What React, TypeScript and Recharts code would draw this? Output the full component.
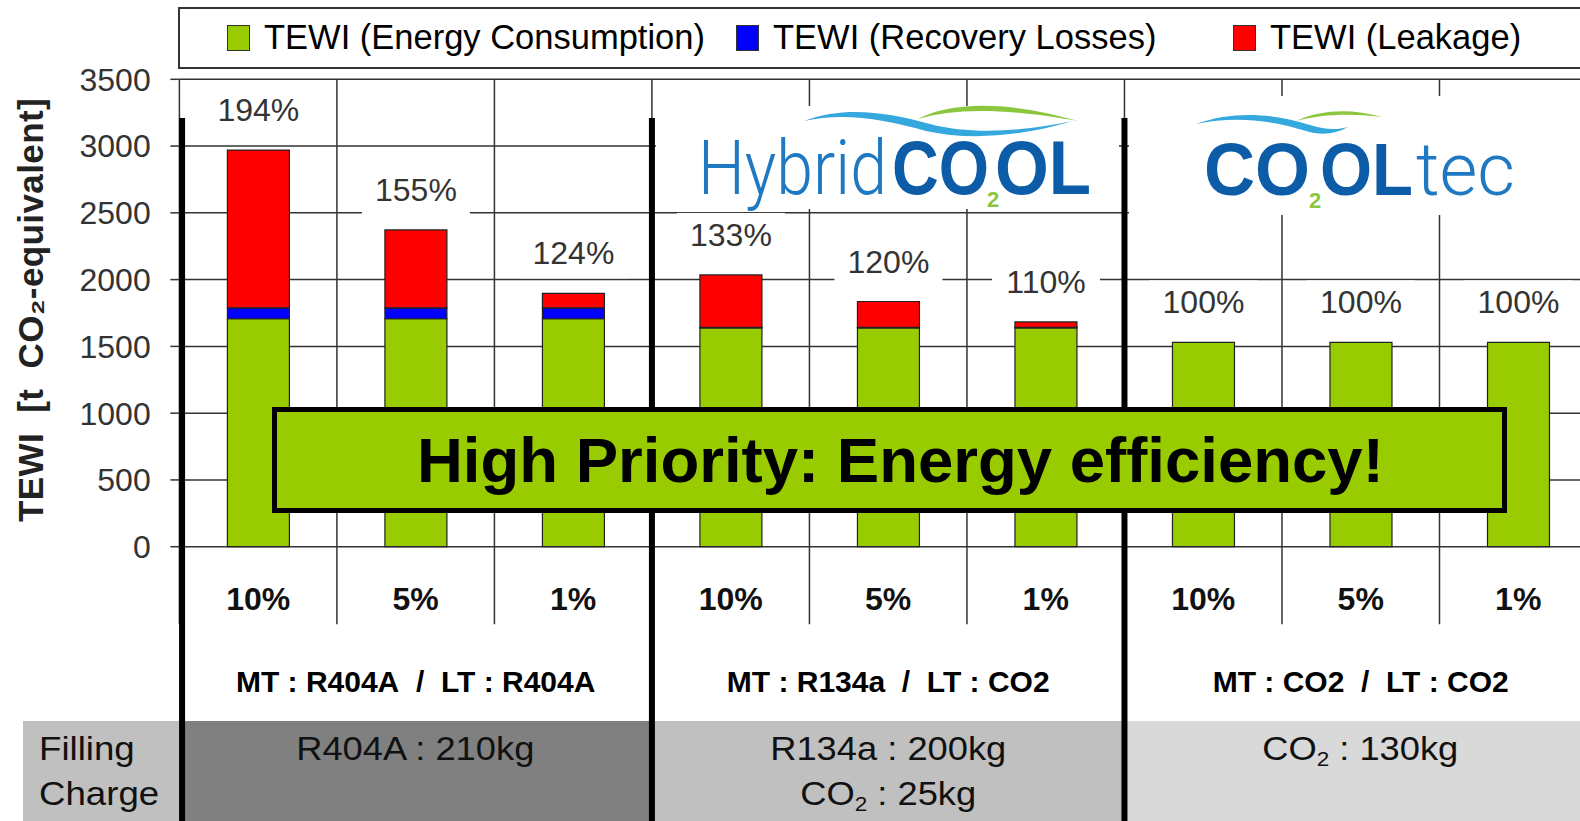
import React from 'react';
import { ComposedChart, Bar, XAxis, YAxis, CartesianGrid, ReferenceLine, LabelList } from 'recharts';

// leak rate per bar, three refrigerant set-ups of three bars each
const leakRates = ['10%', '5%', '1%', '10%', '5%', '1%', '10%', '5%', '1%'];
const systems = [
  'MT : R404A\u00a0 /\u00a0 LT : R404A',
  'MT : R134a\u00a0 /\u00a0 LT : CO2',
  'MT : CO2\u00a0 /\u00a0 LT : CO2',
];

// TEWI [t CO2-equivalent]
const energy = [1707, 1707, 1707, 1638, 1638, 1638, 1530, 1530, 1530];
const recovery = [82, 82, 82, 5, 5, 5, 0, 0, 0];
const leakage = [1181, 583, 108, 392, 193, 40, 0, 0, 0];
const relative = ['194%', '155%', '124%', '133%', '120%', '110%', '100%', '100%', '100%'];

const yTicks = [0, 500, 1000, 1500, 2000, 2500, 3000, 3500];
const slotEdges = [0, 1, 2, 3, 4, 5, 6, 7, 8, 9];
const groupEdges = [0.017, 3, 6];

const series = [
  { key: 'energy', name: 'TEWI (Energy Consumption)', color: '#99CC00', slot: 509 },
  { key: 'recovery', name: 'TEWI (Recovery Losses)', color: '#0000FF', slot: 497 },
  { key: 'leakage', name: 'TEWI (Leakage)', color: '#FF0000', slot: 400 },
];

const charges = [
  ['R404A : 210kg'],
  ['R134a : 200kg', 'CO2 : 25kg'],
  ['CO2 : 130kg'],
];
const chargeFills = ['#808080', '#c0c0c0', '#d9d9d9'];

const data = leakRates.map((rate, i) => ({
  rate,
  system: systems[Math.floor(i / 3)],
  slot: i + 0.5,
  energy: energy[i],
  recovery: recovery[i],
  leakage: leakage[i],
  pct: relative[i],
}));

const FONT = "'Liberation Sans', Arial, Helvetica, sans-serif";
const PLOT_LEFT = 179.4;
const BAND = 157.5;

// label sits above the whole stack; the stack top is found from the green rect's own scale
const PctLabel = (props: any) => {
  const { x, y, width, height, value, index } = props;
  const d = data[index];
  if (!d) return null;
  const perUnit = Number(height) / d.energy;
  const top = Number(y) - (d.recovery + d.leakage) * perUnit;
  const cx = Number(x) + Number(width) / 2;
  const base = top - 29;
  return (
    <g>
      <rect x={cx - 54} y={base - 33} width={108} height={47} fill="#fff" />
      <text x={cx} y={base} textAnchor="middle" fontSize={32} fill="#333">{value}</text>
    </g>
  );
};

// "CO2" written with a lowered small 2
const withSub = (s: string) => {
  const parts = s.split('CO2');
  return parts.map((p, i) => (
    <React.Fragment key={i}>
      {i > 0 && (
        <>CO<span style={{ fontSize: '0.62em', position: 'relative', top: '0.3em' }}>2</span></>
      )}
      {p}
    </React.Fragment>
  ));
};

const LIGHT = "Roboto, 'Liberation Sans', sans-serif";
const DARK_BLUE = '#0c5ca8';
const MID_BLUE = '#1e78c2';
const LOGO_GREEN = '#8cc63f';

const Logos = () => (
  <svg width={1580} height={821} style={{ position: 'absolute', left: 0, top: 0, pointerEvents: 'none' }}>
    <text transform="translate(43,310) rotate(-90)" textAnchor="middle" fontSize={35} fontWeight="bold"
      fill="#222" style={{ whiteSpace: 'pre', letterSpacing: 0.4 }}>TEWI  [t  CO₂-equivalent]</text>

    {/* HybridCOOL */}
    <rect x={656} y={106} width={463} height={103} fill="#fff" />
    <path d="M804 121 C845 106 885 112 930 124 C975 136 1030 130 1072 121 C1030 134 975 142 926 131 C885 120 845 112 804 121 Z"
      fill="#35a8dd" />
    <path d="M918 119 C950 102 1005 100 1078 121 C1005 108 955 108 918 119 Z" fill={LOGO_GREEN} />
    <text y={194} fontSize={76}>
      <tspan x={698} fontWeight={300} fill={MID_BLUE} fontFamily={LIGHT} textLength={189} lengthAdjust="spacingAndGlyphs">Hybrid</tspan>
      <tspan x={892} fontWeight={900} fill={DARK_BLUE} textLength={97} lengthAdjust="spacingAndGlyphs">CO</tspan>
      <tspan x={987} dy={13} fontSize={22} fontWeight="bold" fill={LOGO_GREEN}>2</tspan>
      <tspan x={995} dy={-13} fontWeight={900} fill={DARK_BLUE} textLength={96} lengthAdjust="spacingAndGlyphs">OL</tspan>
    </text>

    {/* COOLtec */}
    <rect x={1129} y={96} width={460} height={119} fill="#fff" />
    <path d="M1196 124 C1235 110 1275 114 1310 125 C1325 130 1338 130 1348 127 C1335 134 1322 136 1306 131 C1270 120 1235 116 1196 124 Z"
      fill="#35a8dd" />
    <path d="M1296 121 C1320 110 1350 108 1382 117 C1350 113 1322 114 1296 121 Z" fill={LOGO_GREEN} />
    <text y={195} fontSize={74}>
      <tspan x={1204} fontWeight={900} fill={DARK_BLUE} textLength={106} lengthAdjust="spacingAndGlyphs">CO</tspan>
      <tspan x={1309} dy={13} fontSize={22} fontWeight="bold" fill={LOGO_GREEN}>2</tspan>
      <tspan x={1320} dy={-13} fontWeight={900} fill={DARK_BLUE} textLength={93} lengthAdjust="spacingAndGlyphs">OL</tspan>
      <tspan x={1416} fontWeight={300} fill={MID_BLUE} fontFamily={LIGHT} textLength={99} lengthAdjust="spacingAndGlyphs">tec</tspan>
    </text>
  </svg>
);

export default function App() {
  return (
    <div style={{ position: 'relative', width: 1580, height: 821, overflow: 'hidden', fontFamily: FONT, background: '#fff' }}>
      <style>{'body{margin:0;overflow:hidden}'}</style>

      {/* filling charge row */}
      <div style={{ position: 'absolute', left: 23, top: 721, width: PLOT_LEFT - 23, height: 100, background: '#c0c0c0' }}>
        <div style={{ position: 'absolute', left: 16, top: 5, fontSize: 33, lineHeight: '45px', color: '#111',
          transform: 'scaleX(1.11)', transformOrigin: 'left' }}>
          Filling<br />Charge
        </div>
      </div>
      {charges.map((lines, g) => (
        <div key={g} style={{ position: 'absolute', left: PLOT_LEFT + g * 3 * BAND, top: 721,
          width: g === 2 ? 1600 - (PLOT_LEFT + 6 * BAND) : 3 * BAND, height: 100, background: chargeFills[g] }}>
          <div style={{ position: 'absolute', top: 5, left: 0, textAlign: 'center', fontSize: 33, lineHeight: '45px',
            color: '#111', transform: 'scaleX(1.1)', width: 3 * BAND }}>
            {lines.map((l, i) => <div key={i}>{withSub(l)}</div>)}
          </div>
        </div>
      ))}

      <div style={{ position: 'absolute', left: 0, top: 0 }}>
        <ComposedChart width={1600} height={821} data={data} margin={{ top: 79.3, right: 3, bottom: 114.3, left: 0 }}>
          <CartesianGrid vertical={false} stroke="#333" strokeWidth={1.5} />
          <XAxis dataKey="rate" interval={0} height={60} tickSize={0} tickMargin={41} axisLine={false} tickLine={false}
            tick={{ fontSize: 32, fontWeight: 'bold', fill: '#111' }} />
          <XAxis xAxisId="sys" dataKey="system" allowDuplicatedCategory={false} interval={0} height={100} tickSize={0}
            tickMargin={34} axisLine={false} tickLine={false} tick={{ fontSize: 30, fontWeight: 'bold', fill: '#000' }} />
          <XAxis xAxisId="num" type="number" dataKey="slot" domain={[0, 9]} allowDataOverflow hide />
          <YAxis domain={[0, 3500]} ticks={yTicks} interval={0} width={PLOT_LEFT} tickSize={9} tickMargin={19.7}
            axisLine={false} tickLine={{ stroke: '#333', strokeWidth: 1.5 }} tick={{ fontSize: 32, fill: '#333' }} />
          {slotEdges.map((e) => (
            <ReferenceLine key={'s' + e} xAxisId="num" ifOverflow="visible" stroke="#333" strokeWidth={1.5}
              segment={[{ x: e, y: 3500 }, { x: e, y: -580 }]} />
          ))}
          <Bar dataKey="energy" name={series[0].name} stackId="t" fill={series[0].color} stroke="#222" strokeWidth={1.2}
            barSize={62} isAnimationActive={false}>
            <LabelList dataKey="pct" content={PctLabel} />
          </Bar>
          <Bar dataKey="recovery" name={series[1].name} stackId="t" fill={series[1].color} stroke="#222" strokeWidth={1.2}
            barSize={62} isAnimationActive={false} />
          <Bar dataKey="leakage" name={series[2].name} stackId="t" fill={series[2].color} stroke="#222" strokeWidth={1.2}
            barSize={62} isAnimationActive={false} />
          {groupEdges.map((e) => (
            <ReferenceLine key={'g' + e} xAxisId="num" ifOverflow="visible" stroke="#000" strokeWidth={6}
              segment={[{ x: e, y: 3210 }, { x: e, y: -2100 }]} />
          ))}
        </ComposedChart>
      </div>

      {/* legend */}
      <div style={{ position: 'absolute', left: 178, top: 6.7, width: 1440, height: 62, border: '2px solid #333',
        boxSizing: 'border-box', display: 'flex', alignItems: 'center', paddingLeft: 47, background: '#fff' }}>
        {series.map((s) => (
          <div key={s.key} style={{ width: s.slot, display: 'flex', alignItems: 'center', flex: 'none' }}>
            <span style={{ width: 23, height: 26, background: s.color, border: '1.5px solid #333', boxSizing: 'border-box',
              marginRight: 14, flex: 'none' }} />
            <span style={{ fontSize: 34.5, color: '#000', whiteSpace: 'nowrap' }}>{s.name}</span>
          </div>
        ))}
      </div>

      <Logos />

      <div style={{ position: 'absolute', left: 272, top: 407, width: 1235, height: 106, border: '5px solid #000',
        boxSizing: 'border-box', background: '#99CC00', fontSize: 63.5, fontWeight: 'bold', lineHeight: '96px',
        paddingLeft: 140, whiteSpace: 'nowrap', color: '#000' }}>
        High Priority: Energy efficiency!
      </div>
    </div>
  );
}
